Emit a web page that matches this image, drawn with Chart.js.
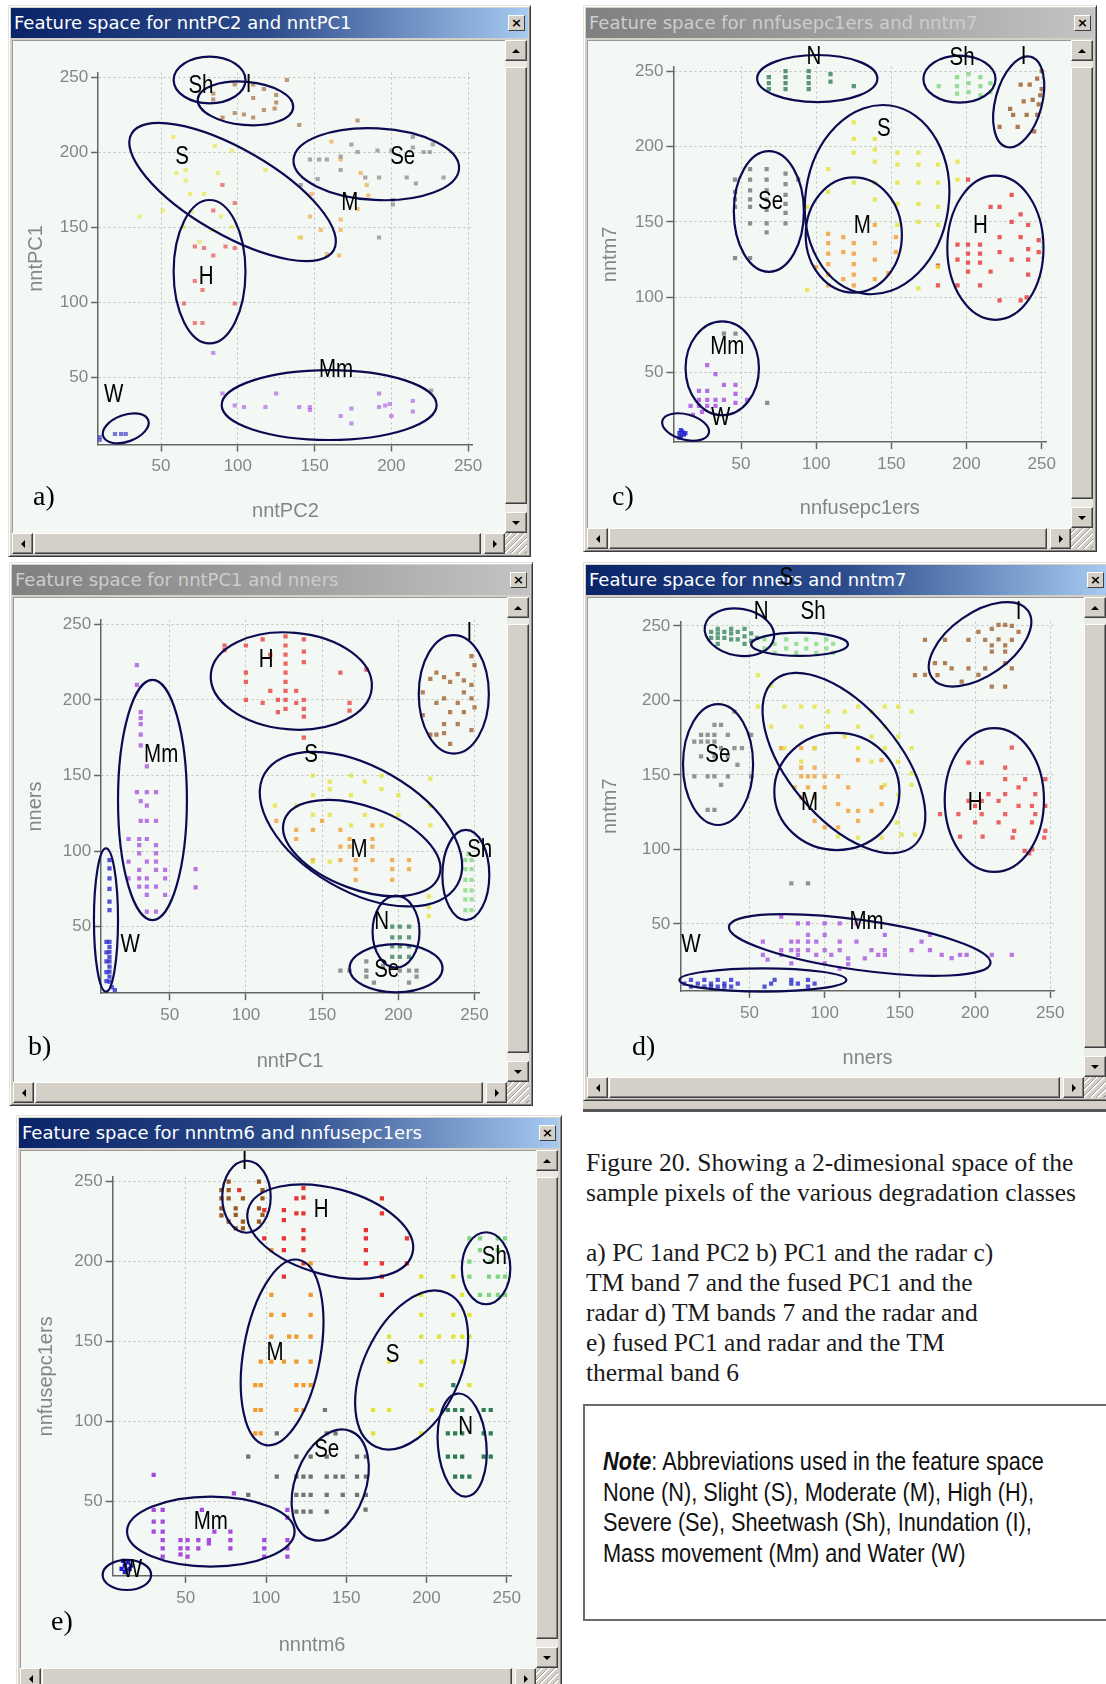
<!DOCTYPE html>
<html>
<head>
<meta charset="utf-8">
<script src="https://cdn.jsdelivr.net/npm/chart.js@4.4.1/dist/chart.umd.min.js"></script>
<style>
html,body{margin:0;padding:0;background:#fff;}
body{width:1106px;height:1684px;overflow:hidden;position:relative;}
.win{position:absolute;box-sizing:border-box;background:#d4d0c8;border:1px solid;border-color:#e4e2dc #3a3a3a #3a3a3a #e4e2dc;box-shadow:inset 1px 1px 0 #fff,inset -1px -1px 0 #808080;z-index:1}
.tb{position:absolute;left:2px;right:2px;top:2px;height:30px;line-height:30px;font-family:"DejaVu Sans",Verdana,sans-serif;font-size:18px;padding-left:3px;white-space:nowrap;overflow:hidden;box-sizing:border-box}
.tb.on{background:linear-gradient(90deg,#0a246a 0%,#2c4c8c 50%,#a6caf0 100%);color:#fff}
.tb.off{background:linear-gradient(90deg,#808080 0%,#a4a4a4 60%,#c4c4c4 100%);color:#cdcdcd}
.cls{position:absolute;right:3px;top:7px;width:17px;height:16px;box-sizing:border-box;background:#d4d0c8;border:1px solid;border-color:#fff #404040 #404040 #fff;font:bold 13px "DejaVu Sans",sans-serif;line-height:13px;text-align:center;color:#000}
.ct{position:absolute;left:3px;top:34px;right:25px;bottom:23px;background:#f4f8f4;box-shadow:inset 1px 1px 0 #9a9a9a}
.vsb{position:absolute;right:3px;top:34px;width:22px;bottom:23px;background:#ebe9e4}
.hsb{position:absolute;left:3px;right:25px;bottom:2px;height:21px;background:#ebe9e4}
.grip{position:absolute;right:3px;bottom:2px;width:22px;height:21px;background:repeating-linear-gradient(135deg,#d4d0c8 0 3px,#a0a0a0 3px 4px,#fff 4px 5px)}
.bt{position:absolute;box-sizing:border-box;background:#d4d0c8;border:1px solid;border-color:#fff #404040 #404040 #fff;box-shadow:inset -1px -1px 0 #808080}
.tri{position:absolute;left:50%;top:50%;width:0;height:0;transform:translate(-50%,-50%)}
canvas{position:absolute;z-index:2}
.let{position:absolute;z-index:3;font-family:"Liberation Serif","Times New Roman",serif;font-size:28px;line-height:28px;color:#000}
.cap{position:absolute;left:586px;top:1148px;font-family:"Liberation Serif",serif;font-size:25.5px;line-height:30px;color:#1a1a1a;white-space:nowrap}
.note{position:absolute;left:583px;top:1404px;width:620px;height:217px;box-sizing:border-box;border:2px solid #6b6b6b}
.nt{position:absolute;left:603px;top:1446px;font-family:"Liberation Sans Narrow","Arial Narrow",sans-serif;font-size:26.5px;line-height:30.5px;color:#111;white-space:nowrap;transform-origin:0 0}
.dbar{position:absolute;left:583px;top:1101px;width:523px;height:11px;background:#d4d0c8;border-bottom:3px solid #555;box-sizing:border-box;z-index:1}
</style>
</head>
<body>
<div class="cap">Figure 20. Showing a 2-dimesional space of the<br>sample pixels of the various degradation classes<br><br>a) PC 1and PC2 b) PC1 and the radar c)<br>TM band 7 and the fused PC1 and the<br>radar d) TM bands 7 and the radar and<br>e) fused PC1 and radar and the TM<br>thermal band 6</div>
<div class="note"></div>
<div class="nt" id="nt"><b><i>Note</i></b>: Abbreviations used in the feature space<br>None (N), Slight (S), Moderate (M), High (H),<br>Severe (Se), Sheetwash (Sh), Inundation (I),<br>Mass movement (Mm) and Water (W)</div>
<div class="dbar"></div>
<script>
// ---------- text / categories ----------
const TICKS = [50, 100, 150, 200, 250];
const CLASS_NAMES = ['N', 'S', 'M', 'H', 'Se', 'Sh', 'I', 'Mm', 'W'];
const PANEL_TITLES = ['Feature space for nntPC2 and nntPC1', 'Feature space for nntPC1 and nners', 'Feature space for nnfusepc1ers and nntm7', 'Feature space for nners and nntm7', 'Feature space for nnntm6 and nnfusepc1ers'];
const X_TITLES = ['nntPC2', 'nntPC1', 'nnfusepc1ers', 'nners', 'nnntm6'];
const Y_TITLES = ['nntPC1', 'nners', 'nntm7', 'nntm7', 'nnfusepc1ers'];
const PANEL_LETTERS = ['a)', 'b)', 'c)', 'd)', 'e)'];

// ---------- panel a : nntPC2 (x) vs nntPC1 (y) ----------
const A_I = [[84,239],[98,245],[110,245],[117,242],[125,238],[125,233],[110,236],[90,223],[98,226],[104,225],[110,223],[117,228],[124,229],[132,248],[140,218],[84,235],[178,221]];
const A_Se = [[214,210],[214,203],[227,205],[221,200],[225,200],[200,201],[191,201],[178,200],[174,205],[167,197],[158,195],[153,195],[147,195],[167,188],[183,183],[192,183],[210,183],[216,179],[234,183],[201,168],[201,165],[152,182],[141,178],[192,143],[226,41]];
const A_M = [[161,207],[167,195],[184,178],[185,171],[178,162],[167,155],[167,148],[148,172],[147,157],[154,148],[158,132],[166,131],[141,143],[180,186]];
const A_S = [[58,210],[60,186],[66,188],[66,181],[69,172],[78,172],[87,186],[118,188],[36,157],[51,161],[65,150],[83,148],[89,157],[96,150],[85,204],[96,201],[140,143],[70,160],[75,140]];
const A_H = [[90,178],[98,166],[84,161],[72,137],[78,136],[84,131],[92,137],[98,136],[72,114],[77,108],[65,99],[98,99],[72,86],[77,86]];
const A_Mm = [[98,31],[104,30],[118,30],[125,39],[140,30],[147,30],[147,28],[167,24],[174,29],[174,19],[192,39],[192,30],[196,31],[199,32],[200,24],[214,34],[214,27],[90,39],[84,66]];
const A_W = [[20,12],[24,12],[27,12],[10,10],[10,8]];

// ---------- panel b : nntPC1 (x) vs nners (y) ----------
const B_H = [[86,236],[86,233],[100,236],[100,218],[100,212],[100,200],[111,240],[116,230],[116,206],[121,200],[126,242],[126,236],[126,230],[126,224],[126,218],[126,212],[126,206],[126,200],[126,194],[133,206],[133,198],[138,240],[138,232],[138,225],[138,200],[138,194],[138,189],[162,218],[168,198],[168,193],[179,220],[138,175],[121,192],[111,198]];
const B_I = [[248,229],[250,223],[225,218],[230,215],[239,217],[243,213],[248,210],[234,212],[221,214],[230,201],[239,198],[248,201],[225,198],[234,192],[243,192],[216,190],[230,184],[239,184],[248,180],[225,177],[234,171],[230,178],[250,195],[221,177],[243,205],[216,205]];
const B_S = [[144,150],[155,146],[155,141],[169,150],[169,137],[178,146],[189,150],[189,141],[200,137],[221,148],[221,130],[133,130],[144,124],[155,124],[169,117],[178,124],[189,117],[119,130],[200,124],[144,137],[221,117],[220,70],[220,63],[220,57],[144,93],[155,93]];
const B_M = [[133,114],[144,114],[162,114],[168,108],[168,103],[162,94],[172,94],[183,94],[172,88],[183,108],[183,103],[196,94],[207,94],[196,88],[207,88],[196,81],[172,81],[144,94],[162,103],[133,108],[150,120],[120,120],[183,117]];
const B_Sh = [[244,94],[248,94],[244,88],[248,88],[244,81],[248,81],[244,74],[248,74],[244,68],[248,68],[244,61],[248,61],[246,98]];
const B_N = [[196,50],[201,50],[207,50],[196,43],[201,43],[207,43],[196,37],[201,37],[207,37],[196,30],[201,30],[207,30]];
const B_Se = [[162,21],[168,21],[179,27],[179,21],[179,17],[184,13],[201,21],[207,21],[207,13],[212,17],[190,24],[212,21]];
const B_Mm = [[28.5,223],[28.5,210],[31,192],[31,188],[31,184],[31,177],[31,170],[35,156],[28.5,139],[35,139],[41,139],[31,133],[35,130],[31,120],[35,120],[41,120],[23,108],[30,108],[35,108],[30,98.5],[41,98.5],[23,93],[35,93],[41,93],[30,87.5],[41,87.5],[47,87.5],[30,82],[35,82],[47,82],[30,76.5],[35,76.5],[41,76.5],[35,71],[47,71],[35,60],[41,60],[67,88],[67,76],[23,82],[41,104],[30,104]];
const B_W = [[10.5,94],[10.5,88.6],[10.5,82],[10.5,75],[10.5,66.5],[10.5,61],[10.5,40],[10.5,36.7],[10.5,33.4],[10.5,30],[10.5,27],[10.5,23.6],[10.5,20.3],[10.5,17],[10.5,13.7],[12,10],[14,8],[8.5,40],[8.5,33],[8.5,27],[8.5,20],[8.5,14]];

// ---------- panel c : nnfusepc1ers (x) vs nntm7 (y) ----------
const C_N = [[68.5,242],[68.5,238],[79.6,250],[79.6,246],[79.6,242],[79.6,238],[95,250],[95,246],[95,242],[95,238],[109.5,248],[109.5,243],[125,240],[68.5,246]];
const C_Sh = [[181.5,240],[193.7,246],[193.7,240],[193.7,235],[201.4,248],[201.4,242],[201.4,236],[209.2,246],[209.2,240],[209.2,234],[215.9,242],[215.9,236]];
const C_I = [[250,250],[247,245],[242,241],[236,241],[249,234],[238,230],[229,225],[231,221],[240,221],[247,221],[222,213],[234,213],[245,210],[250,238],[248,228],[244,231]];
const C_Se = [[56,185],[67,185],[79.6,182],[46,178],[56,178],[67,178],[79.6,175],[46,170],[56,171],[67,171],[79.6,168],[46,165],[56,165],[67,165],[79.6,162],[46,160],[56,160],[67,158],[79.6,156],[56,149],[67,149],[79.6,149],[67,143],[46,126],[56,126],[88,178],[38.6,76],[46.3,76],[67.4,30]];
const C_S = [[125,216],[125,205],[125,196],[139,205],[139,198],[139,190],[154,196],[154,188],[154,176],[168,196],[168,188],[168,176],[168,162],[181,188],[181,176],[181,160],[194,190],[194,178],[154,162],[139,176],[154,148],[168,150],[181,148],[108,185],[108,170],[94,160],[125,176],[139,165],[168,106],[94,105],[181,120]];
const C_M = [[108,142],[108,136],[108,129],[108,122],[108,115],[118,140],[118,130],[125,136],[125,129],[125,122],[125,115],[139,148],[139,136],[139,125],[153,140],[153,130],[125,108],[108,108],[139,112],[100,120],[118,112],[148,116]];
const C_H = [[201,178],[230,168],[216,160],[222,160],[236,155],[230,150],[241,148],[201,135],[209,135],[201,129],[209,129],[201,123],[209,123],[194,135],[222,140],[222,130],[236,140],[241,132],[248,138],[248,130],[230,125],[241,125],[201,117],[216,117],[241,115],[181,108],[194,108],[209,108],[222,98],[236,98],[240,100],[181,121],[194,125]];
const C_Mm = [[27.5,55],[33,49],[38.6,42],[46.3,42],[46.3,36],[22,38],[27.5,38],[22,32],[27.5,32],[33,32],[38.6,32],[16.4,28],[22,28],[27.5,28],[33,28],[46.3,30],[54,32],[18,22],[24,24]];
const C_W = [[9,10],[10,8],[11,11],[12,9],[10,12],[13,10],[9,7]];

// ---------- panel d : nners (x) vs nntm7 (y) ----------
const D_N = [[24.5,246],[24.5,242],[28.9,248],[28.9,245],[28.9,242],[28.9,238],[33.3,246],[33.3,242],[37.8,248],[37.8,245],[37.8,241],[42.2,246],[42.2,241],[46.7,248],[46.7,243],[46.7,238],[51.1,245],[51.1,240],[55,242]];
const D_Sh = [[60,241],[66.7,238],[74.4,241],[74.4,235],[81.1,238],[81.1,232],[87.8,241],[87.8,235],[94.4,238],[94.4,232],[101.1,241],[101.1,235],[105.6,238],[105.6,232],[66.7,232],[60,235]];
const D_I = [[215.6,250.7],[220,250.7],[224.4,250],[228.9,246],[202.2,246],[211.1,248],[180,240.6],[195.6,240.6],[206.7,240.6],[215.6,241],[224.4,240.6],[211.1,237],[220,237],[211.1,232.8],[220,232.8],[166.7,240.6],[173.3,225],[180,225],[184.4,221.6],[195.6,221.6],[206.7,221.6],[220,225],[224.4,221.6],[166.7,217.1],[191.1,212.6],[211.1,209.3],[220,209.3],[202.2,217.1],[175,217],[160,217]];
const D_Se = [[40,192.5],[26.7,183.6],[31.1,183.6],[17.8,176.9],[22.2,176.9],[26.7,176.9],[35.6,176.9],[51.1,176.9],[13.3,172.4],[17.8,172.4],[22.2,172.4],[26.7,172.4],[31.1,168],[40,168],[45,168],[17.8,162.4],[26.7,162.4],[35.6,162.4],[22.2,149],[26.7,149],[35.6,149],[51.1,149],[31.1,143.4],[22.2,126.6],[26.7,126.6],[13.3,149],[42,156.8],[77.8,77.3],[88.9,77.3]];
const D_S = [[55.6,217],[64.4,210],[55.6,195.9],[73.3,195.9],[84.4,195.9],[93.3,195.9],[102.2,192.5],[113.3,192.5],[122.2,195.9],[131.1,192.5],[140,195.9],[148.9,195.9],[157.8,192.5],[64.4,182.5],[84.4,182.5],[102.2,182.5],[122.2,182.5],[140,182.5],[113.3,175.8],[131.1,175.8],[148.9,175.8],[93.3,168],[122.2,168],[140,168],[157.8,168],[131.1,159],[148.9,159],[157.8,151],[140,143.4],[157.8,143.4],[148.9,136.7],[73.3,168],[84.4,159],[108.9,108.6],[122.2,108],[137.8,108],[151.1,110],[160,110],[148,118]];
const D_M = [[71.1,168],[84.4,168],[93.3,168],[122.2,160],[137.8,160],[84.4,155],[93.3,155],[84.4,149],[88.9,149],[93.3,149],[100,149],[108.9,149],[80,141.6],[88.9,141.6],[100,141.6],[115.6,141.6],[137.8,141.6],[84.4,135],[93.3,135],[108.9,130.4],[122.2,125.9],[131.1,125.9],[93.3,119.2],[115.6,125.9],[100,114.8],[108.9,114.8],[122.2,119.2],[137.8,130.4]];
const D_H = [[224.4,168.4],[195.6,158.3],[204.4,158.3],[220,155],[233.3,147.2],[246.7,147.2],[220,147.2],[228.9,141.6],[208.9,137.1],[220,137.1],[240,137.1],[195.6,132.6],[204.4,132.6],[215.6,132.6],[228.9,129.3],[237.8,129.3],[246.7,129.3],[200,129.3],[188.9,123.7],[204.4,123.7],[220,123.7],[240,123.7],[176.7,123.7],[215.6,118.1],[237.8,118.1],[200,118.1],[246.7,112.5],[226,112.5],[190,108.6],[205,108.6],[225,108],[246,108],[236,97.4],[238,100],[233,99]];
const D_Mm = [[71.1,55],[82.2,50.4],[88.9,50.4],[100,50.4],[110,50.4],[121.1,50.4],[88.9,42.6],[100,42.6],[140,42.6],[58.9,38.1],[77.8,38.1],[82.2,38.1],[88.9,38.1],[94.4,38.1],[110,38.1],[121.1,38.1],[164.4,38.1],[170,42.6],[71.1,32.5],[77.8,32.5],[82.2,32.5],[88.9,32.5],[100,32.5],[110,32.5],[131.1,32.5],[140,32.5],[157.8,32.5],[170,32.5],[58.9,29.2],[71.1,29.2],[82.2,29.2],[94.4,29.2],[104.4,29.2],[115.6,26.9],[126.7,26.9],[135.6,29.2],[140,29.2],[177.8,29.2],[184.4,27],[190,29.2],[194.4,29.2],[211.1,29.2],[224.4,29.2],[62,26],[100,23.6],[110,20],[115.6,23],[77.8,23.6]];
const D_W = [[6.7,10],[11.1,12.4],[15.6,10],[20,12.4],[24.4,10],[28.9,12.4],[33.3,10],[37.8,12.4],[42.2,10],[11.1,8],[20,8],[28.9,8],[37.8,8],[60,8],[64.4,10],[66.7,12.4],[77.8,10],[77.8,12.4],[82.2,10],[88.9,12.4],[88.9,8],[93.3,10],[24.4,8],[33.3,8]];

// ---------- panel e : nnntm6 (x) vs nnfusepc1ers (y) ----------
const E_I = [[72.2,244.8],[76.7,250],[76.7,244.8],[76.7,239.6],[72.2,233.3],[81.1,233.3],[85.6,239.6],[81.1,229.2],[76.7,225],[85.6,225],[95.6,250],[97.8,244.8],[97.8,239.6],[95.6,233.3],[97.8,229.2],[95.6,225],[81.1,220.8],[85.6,220.8],[72.2,229],[72.2,239.6]];
const E_H = [[83.3,244.8],[98.9,232.3],[111.1,232.3],[111.1,226],[111.1,214.6],[111.1,207.3],[111.1,190.6],[98.9,214.6],[118.9,239.6],[118.9,230.2],[123.3,246],[123.3,240],[123.3,230.2],[123.3,219.8],[123.3,214.6],[123.3,207.3],[123.3,199],[162.2,219.8],[162.2,214.6],[162.2,207.3],[162.2,199],[172.2,239.6],[172.2,230.2],[172.2,199],[172.2,190.6],[172.2,179.2],[187.8,214.6],[187.8,199]];
const E_M = [[103.3,207.3],[127.8,199],[103.3,179.2],[127.8,179.2],[103.3,166.7],[111.1,166.7],[127.8,166.7],[103.3,153.1],[114.4,153.1],[118.9,153.1],[127.8,153.1],[96.7,137.5],[103.3,137.5],[111.1,137.5],[118.9,137.5],[127.8,137.5],[93.3,122.9],[96.7,122.9],[118.9,122.9],[123.3,122.9],[127.8,122.9],[93.3,107.3],[96.7,107.3],[118.9,107.3],[123.3,107.3],[93.3,92.7],[96.7,92.7]];
const E_Se = [[136.7,107.3],[106.7,92.7],[137.8,92.7],[88.9,78.1],[118.9,78.1],[127.8,78.1],[137.8,78.1],[156.7,78.1],[162.2,78.1],[106.7,65.6],[118.9,65.6],[123.3,65.6],[127.8,65.6],[137.8,65.6],[143.3,65.6],[147.8,65.6],[156.7,65.6],[162.2,65.6],[88.9,54.2],[118.9,54.2],[123.3,54.2],[127.8,54.2],[137.8,54.2],[147.8,54.2],[156.7,54.2],[162.2,54.2],[118.9,43.8],[123.3,43.8],[127.8,43.8],[137.8,43.8],[162,45],[143.3,92.7]];
const E_S = [[196.7,190.6],[216.7,190.6],[196.7,179.2],[222.2,179.2],[196.7,166.7],[216.7,166.7],[226.7,166.7],[176.7,153.1],[196.7,153.1],[207.8,153.1],[216.7,153.1],[222.2,153.1],[226.7,153.1],[196.7,137.5],[216.7,137.5],[222.2,137.5],[196.7,122.9],[176.7,137.5],[166.7,107.3],[176.7,107.3],[203.3,107.3],[166.7,92.7],[196.7,92.7],[226.7,122.9]];
const E_Sh = [[226.7,214.6],[233.3,214.6],[244.4,214.6],[248.9,214.6],[233.3,207.3],[244.4,207.3],[226.7,190.6],[238.9,190.6],[244.4,190.6],[248.9,190.6],[233.3,179.2],[238.9,179.2],[244.4,179.2],[248.9,179.2],[226.7,200],[240,200]];
const E_N = [[213.3,107.3],[217.8,107.3],[222.2,107.3],[235.6,107.3],[240,107.3],[213.3,92.7],[217.8,92.7],[222.2,92.7],[235.6,92.7],[240,92.7],[213.3,78.1],[217.8,78.1],[222.2,78.1],[235.6,78.1],[240,78.1],[217.8,65.6],[222.2,65.6],[226.7,65.6],[216.7,122.9]];
const E_Mm = [[30,66.7],[80,55.2],[30,44.8],[35.6,44.8],[60,44.8],[113.3,44.8],[30,37.5],[35.6,37.5],[30,31.3],[35.6,31.3],[67.8,31.3],[77.8,31.3],[35.6,26],[46.7,26],[51.1,26],[57.8,26],[64.4,26],[77.8,26],[98.9,26],[113.3,26],[35.6,20.8],[46.7,20.8],[51.1,20.8],[57.8,20.8],[64.4,24],[77.8,20.8],[98.9,20.8],[113.3,20.8],[35.6,15.6],[51.1,15.6],[113.3,15.6],[98.9,15.6],[46.7,17],[113.3,40]];
const E_W = [[10,8],[12,10],[14,12],[16,10],[13,7],[11,13],[15,8],[12,6]];

// ---------- styles ----------
const COLORS = {N:'#2f7d56', S:'#e2e236', M:'#f29a2e', H:'#e53535', Se:'#737373', Sh:'#7fd67f', I:'#9a5a24', Mm:'#a64ce0', W:'#1f1fcc'};

function fontAvailable(name){
  const c = document.createElement('canvas').getContext('2d');
  c.font = '40px monospace'; const a = c.measureText('MmWwIiabcSeh').width;
  c.font = '40px "' + name + '", monospace'; const b = c.measureText('MmWwIiabcSeh').width;
  return Math.abs(a - b) > 0.5;
}
const HAS_NARROW = fontAvailable('Liberation Sans Narrow');
const LABEL_FONT = HAS_NARROW ? '25px "Liberation Sans Narrow"' : '25px "Liberation Sans", Arial, sans-serif';
const LABEL_SX = HAS_NARROW ? 1 : 0.82;
if (!HAS_NARROW) { const nt = document.getElementById('nt'); nt.style.fontFamily = '"Liberation Sans", Arial, sans-serif'; nt.style.transform = 'scaleX(0.82)'; }

// ---------- panel layout (window chrome + chart area + annotations) ----------
const PANELS = [
 {idx:0, active:true, alpha:0.6, data:{Se:A_Se,S:A_S,M:A_M,H:A_H,I:A_I,Mm:A_Mm,W:A_W},
  win:[8,5,523,552], ca:[98.1,72.5,472.7,444.5], xr:[9,253], yr:[5,253], ytx:36, xty:511.7, let:[33,505],
  ell:[[81.6,248,23.4,15.6,0],[105,232.4,31.2,14.4,5],[96.6,173.3,76,28.5,30],[190.2,191.9,54,23.9,3],[81.6,120.2,23.4,47.8,0],[159.5,31.3,70,23.3,0],[27,15.8,15.6,8.9,-20]],
  lab:[['Sh',76,243.6],['I',107,244.7],['S',63.7,196.9],['Se',207.4,196.9],['M',172.9,165.8],['H',79.3,116.9],['Mm',164,54.7],['W',19.2,38]]},
 {idx:1, active:false, alpha:0.75, data:{Se:B_Se,S:B_S,M:B_M,H:B_H,I:B_I,N:B_N,Sh:B_Sh,Mm:B_Mm,W:B_W},
  win:[9,562,524,544], ca:[101.1,619.8,479.1,993.2], xr:[5,253], yr:[6,253], ytx:35, xty:1061.7, let:[28,1055],
  ell:[[129.8,212.5,53,32,5],[236.4,203.7,23,39.2,0],[38.7,133.8,22.6,79.4,0],[175.5,114.5,73,41,30],[176,102,54,27.5,20],[244.3,84.2,15.4,29.8,0],[198.5,46.7,15.4,23.8,0],[198.5,22.5,30.5,15.9,0],[8.2,54.4,7.9,47.4,0]],
  lab:[['H',113.3,226.4],['I',246.6,244],['Mm',44.4,163.6],['S',142.7,163.6],['M',174.3,100.7],['Sh',253.4,100.7],['N',189,53.3],['Se',192.4,21.4],['W',24,37.9]]},
 {idx:2, active:false, alpha:0.8, data:{Se:C_Se,S:C_S,M:C_M,H:C_H,I:C_I,N:C_N,Sh:C_Sh,Mm:C_Mm,W:C_W},
  win:[583,5,514,547], ca:[673.4,66.6,1046.2,442.1], xr:[5,253], yr:[4,253], ytx:610, xty:508, let:[612,505],
  ell:[[100.7,245.1,40,15.6,0],[195.3,244.7,24,15.6,0],[234.7,229.6,15.5,31,15],[140.5,164.8,47.7,63,8],[68.5,156.9,23.3,40,0],[125,141.3,32,38.2,0],[219.2,132.9,32,47.8,0],[37.5,52.9,24.4,31.1,0],[13.1,14,16,8.4,15]],
  lab:[['N',98.4,259.6],['Sh',197,258.5],['I',238,259.6],['S',145,211.8],['Se',69.6,162.9],['M',130.6,147.3],['H',209.2,147.3],['Mm',40.8,67.3],['W',36.4,19.6]]},
 {idx:3, active:true, alpha:0.75, data:{Se:D_Se,S:D_S,M:D_M,H:D_H,I:D_I,N:D_N,Sh:D_Sh,Mm:D_Mm,W:D_W},
  win:[583,562,527,539], ca:[680.3,621.5,1054.8,991.0], xr:[4,253], yr:[5,253], ytx:610, xty:1058, let:[632,1055],
  ell:[[43.3,245.8,23.3,15.7,10],[83.3,237.7,32.2,7.8,0],[203.3,237.7,38.9,21,-35],[112.8,158,72,37,50],[108.1,138.9,41.6,39.3,0],[29.1,157,23.3,40.6,0],[212.8,133.2,33,48.3,0],[123.3,35.9,87.8,16.8,8],[58.9,12.4,55.5,7.8,0]],
  lab:[['S',74.5,282],['N',57.8,259.6],['Sh',92.3,259.6],['I',228.9,259.6],['Se',28.9,163.4],['M',90,131],['H',200,131],['Mm',127.8,51.5],['W',11.1,35.9]]},
 {idx:4, active:true, alpha:1, data:{Se:E_Se,S:E_S,M:E_M,H:E_H,I:E_I,N:E_N,Sh:E_Sh,Mm:E_Mm,W:E_W},
  win:[16,1115,546,577], ca:[112.6,1176.9,511.6,1575.9], xr:[4.4,253], yr:[3.6,253], ytx:46, xty:1645, let:[51,1630],
  ell:[[87.8,240.6,15.1,22.5,0],[140,218.8,53,27,15],[110,143.3,24,58.8,10],[190.7,132.3,30,53,25],[237.1,195.9,15.1,22.5,0],[222.2,85.4,15.1,32.3,-5],[140,60.4,22,36,20],[65.6,31.3,52.2,21.9,0],[13.3,4.2,15.1,9.4,0]],
  lab:[['I',86.7,262.5],['H',134.4,232.3],['Sh',242.2,203.1],['M',105.6,142.7],['S',178.9,141.7],['N',224.4,96.9],['Se',137.8,82.3],['Mm',65.6,37.5],['W',16.7,7.3]]}
];

// ---------- helpers ----------
function mk(parent, cls, css, html){ const d = document.createElement('div'); if (cls) d.className = cls; if (css) d.style.cssText = css; if (html != null) d.innerHTML = html; parent.appendChild(d); return d; }
function arrowBtn(parent, css, dir){
  const b = mk(parent, 'bt', css);
  const s = {up:'border-left:4px solid transparent;border-right:4px solid transparent;border-bottom:4px solid #000;',
             down:'border-left:4px solid transparent;border-right:4px solid transparent;border-top:4px solid #000;',
             left:'border-top:4px solid transparent;border-bottom:4px solid transparent;border-right:4px solid #000;',
             right:'border-top:4px solid transparent;border-bottom:4px solid transparent;border-left:4px solid #000;'}[dir];
  mk(b, 'tri', s);
}
function rgba(h, a){ const r = parseInt(h.slice(1,3),16), g = parseInt(h.slice(3,5),16), b = parseInt(h.slice(5,7),16); return 'rgba(' + r + ',' + g + ',' + b + ',' + a + ')'; }

function annotPlugin(p){
  return {
    id: 'annot' + p.idx,
    afterDatasetsDraw(chart){
      const ctx = chart.ctx, x = chart.scales.x, y = chart.scales.y;
      const pxX = Math.abs(x.getPixelForValue(100) - x.getPixelForValue(0)) / 100;
      const pxY = Math.abs(y.getPixelForValue(0) - y.getPixelForValue(100)) / 100;
      ctx.save();
      ctx.strokeStyle = '#0b0b52'; ctx.lineWidth = 2.2;
      p.ell.forEach(e => {
        ctx.beginPath();
        ctx.ellipse(x.getPixelForValue(e[0]), y.getPixelForValue(e[1]), e[2] * pxX, e[3] * pxY, e[4] * Math.PI / 180, 0, Math.PI * 2);
        ctx.stroke();
      });
      ctx.fillStyle = '#000'; ctx.font = LABEL_FONT; ctx.textAlign = 'center'; ctx.textBaseline = 'middle';
      p.lab.forEach(l => {
        ctx.save();
        ctx.translate(x.getPixelForValue(l[1]), y.getPixelForValue(l[2]));
        ctx.scale(LABEL_SX, 1);
        ctx.fillText(l[0], 0, 0);
        ctx.restore();
      });
      ctx.restore();
    }
  };
}

Chart.defaults.font.family = '"Liberation Sans", Arial, sans-serif';

PANELS.forEach(p => {
  const [L, T, W, H] = p.win;
  // window chrome
  const w = mk(document.body, 'win', 'left:' + L + 'px;top:' + T + 'px;width:' + W + 'px;height:' + H + 'px');
  const tb = mk(w, 'tb ' + (p.active ? 'on' : 'off'), '', PANEL_TITLES[p.idx]);
  mk(tb, 'cls', '', '&#215;');
  mk(w, 'ct');
  const v = mk(w, 'vsb');
  arrowBtn(v, 'left:0;top:0;width:22px;height:21px', 'up');
  mk(v, 'bt', 'left:0;top:27px;width:22px;bottom:29px');
  arrowBtn(v, 'left:0;bottom:0;width:22px;height:21px', 'down');
  const h = mk(w, 'hsb');
  arrowBtn(h, 'left:0;top:0;width:21px;height:21px', 'left');
  mk(h, 'bt', 'left:22px;top:0;right:24px;height:21px');
  arrowBtn(h, 'right:0;top:0;width:21px;height:21px', 'right');
  mk(w, 'grip');
  mk(document.body, 'let', 'left:' + p.let[0] + 'px;top:' + (p.let[1] - 23.4) + 'px', PANEL_LETTERS[p.idx]);

  // canvas over the whole window
  const cv = document.createElement('canvas');
  cv.width = W; cv.height = H;
  cv.style.left = L + 'px'; cv.style.top = T + 'px'; cv.style.width = W + 'px'; cv.style.height = H + 'px';
  document.body.appendChild(cv);

  const padL = 4, padB = 24;
  const caL = p.ca[0] - L, caT = p.ca[1] - T, caR = p.ca[2] - L, caB = p.ca[3] - T;
  const datasets = Object.keys(p.data).map(k => ({
    label: k,
    data: p.data[k].map(d => ({x: d[0], y: d[1]})),
    pointStyle: 'rect', pointRadius: 3, borderWidth: 0,
    backgroundColor: rgba(COLORS[k], p.alpha)
  }));
  const tickOpts = {autoSkip: false, maxRotation: 0, color: '#858585', font: {size: 17}, padding: 4};
  const gridOpts = {color: '#bcc0bc', lineWidth: 1, tickLength: 7, tickColor: '#666', tickWidth: 1.5, tickBorderDash: []};
  const borderOpts = {display: true, color: '#666', width: 1.5, dash: [2, 3]};
  new Chart(cv.getContext('2d'), {
    type: 'scatter',
    data: {datasets},
    options: {
      responsive: false, animation: false, devicePixelRatio: 1, events: [],
      layout: {padding: {left: padL, top: caT, right: W - caR, bottom: padB}},
      plugins: {legend: {display: false}, tooltip: {enabled: false}},
      scales: {
        x: {type: 'linear', position: 'bottom', min: p.xr[0], max: p.xr[1],
            afterBuildTicks: s => { s.ticks = TICKS.map(t => ({value: t})); },
            afterFit: s => { s.height = H - padB - caB; },
            ticks: Object.assign({}, tickOpts, {padding: 5}), grid: gridOpts, border: borderOpts,
            title: {display: true, text: X_TITLES[p.idx], color: '#858585', font: {size: 20}, padding: {top: 0, bottom: Math.max(0, (H - padB) - 12 - (p.xty - T))}}},
        y: {type: 'linear', position: 'left', min: p.yr[0], max: p.yr[1],
            afterBuildTicks: s => { s.ticks = TICKS.map(t => ({value: t})); },
            afterFit: s => { s.width = caL - padL; },
            ticks: Object.assign({}, tickOpts, {padding: 3}), grid: gridOpts, border: borderOpts,
            title: {display: true, text: Y_TITLES[p.idx], color: '#858585', font: {size: 20}, padding: {top: Math.max(0, p.ytx - L - padL - 12), bottom: 0}}}
      }
    },
    plugins: [annotPlugin(p)]
  });
});
</script>
</body>
</html>
